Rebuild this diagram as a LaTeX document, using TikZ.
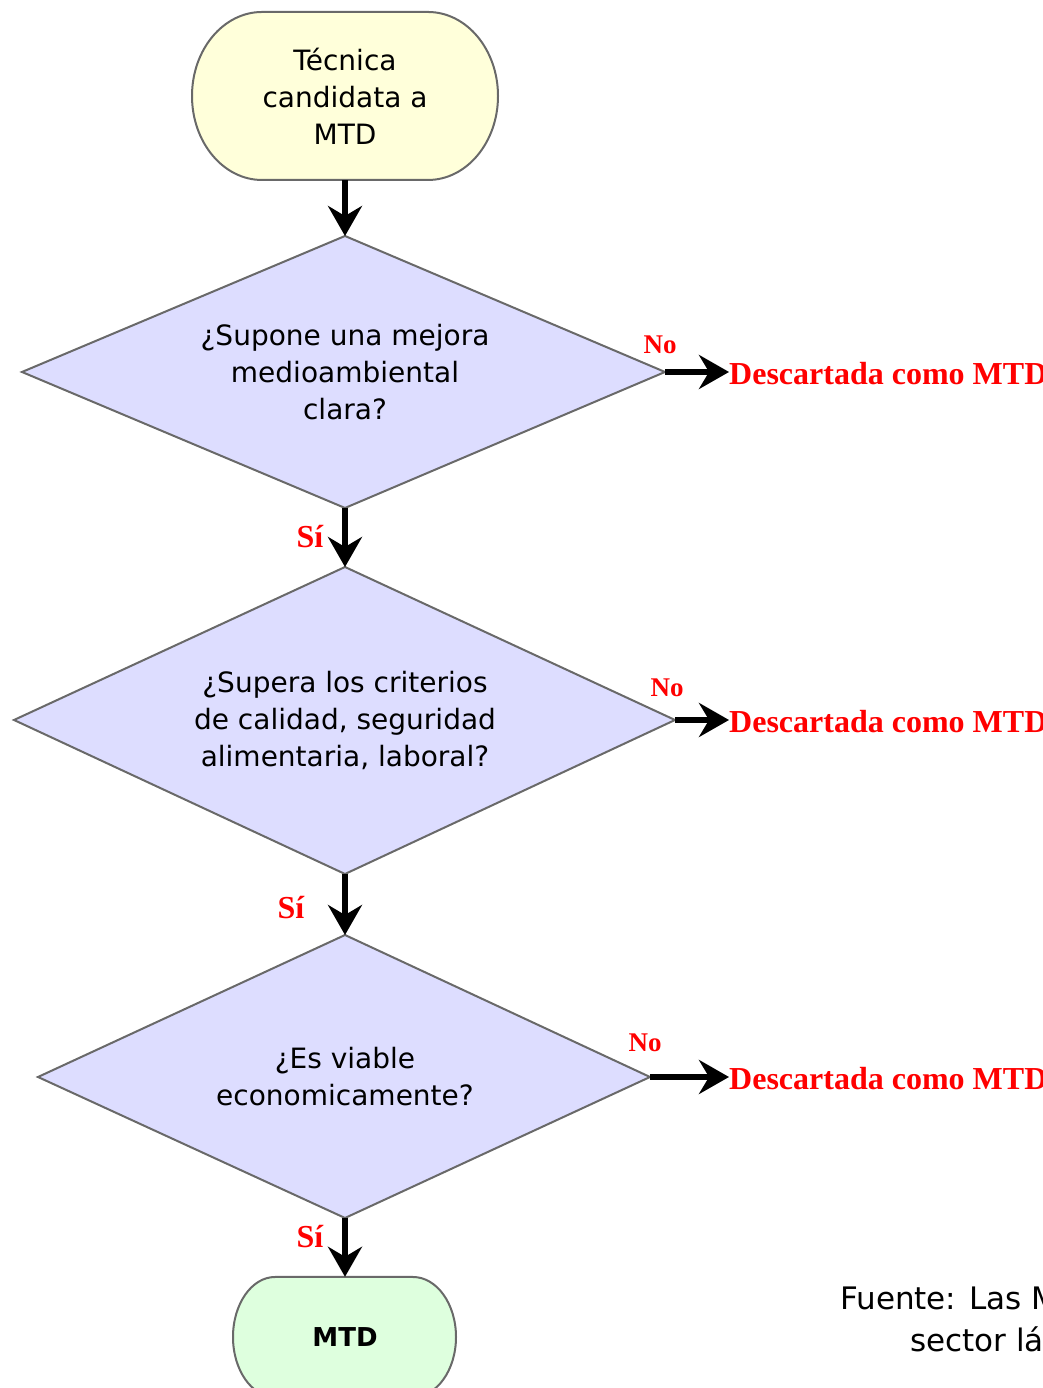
\documentclass[tikz,border=0pt]{standalone}
\usepackage{fontspec}
\setmainfont{DejaVu Sans}
\newfontfamily\serifbold{Liberation Serif}
\usetikzlibrary{arrows.meta}
\definecolor{termyellow}{RGB}{255,255,218}
\definecolor{decblue}{RGB}{221,221,255}
\definecolor{termgreen}{RGB}{222,255,222}
\definecolor{edgegray}{RGB}{105,105,105}
\definecolor{labred}{RGB}{255,0,0}
\tikzset{
  x=1pt,y=1pt,
  shapeline/.style={draw=edgegray,line width=2pt},
  dectext/.style={shape=rectangle,inner sep=0pt,align=center,font=\fontsize{28}{37}\selectfont},
  termtext/.style={shape=rectangle,inner sep=0pt,align=center,font=\fontsize{28}{37}\selectfont},
  flow/.style={line width=5.5pt,-{Stealth[length=30pt,width=34pt,inset=10pt]}},
  rejtext/.style={anchor=west,inner sep=0pt,text=labred,font=\serifbold\bfseries\fontsize{32}{36}\selectfont},
  nolab/.style={inner sep=0pt,text=labred,font=\serifbold\bfseries\fontsize{27}{30}\selectfont},
  silab/.style={inner sep=0pt,text=labred,font=\serifbold\bfseries\fontsize{32}{36}\selectfont},
  srctext/.style={anchor=base west,inner sep=0pt,font=\fontsize{31}{37}\selectfont}
}
\begin{document}
\begin{tikzpicture}
\useasboundingbox (0,0) rectangle (1043,1388);
\clip (0,0) rectangle (1043,1388);
% top terminal
\path[shapeline,fill=termyellow] (262,1376) -- (428,1376)
  arc[start angle=90,end angle=-90,x radius=70,y radius=84] -- (262,1208)
  arc[start angle=270,end angle=90,x radius=70,y radius=84] -- cycle;
\node[termtext,minimum width=306pt,minimum height=168pt] (t) at (345,1292) {Técnica\\candidata a\\MTD};
% decision 1
\coordinate (d1n) at (345,1152);
\coordinate (d1s) at (345,880);
\coordinate (d1w) at (22,1016);
\coordinate (d1e) at (665,1016);
\path[shapeline,fill=decblue] (d1n) -- (d1e) -- (d1s) -- (d1w) -- cycle;
\node[dectext] (d1) at (345,1016) {¿Supone una mejora\\medioambiental\\clara?};
% decision 2
\coordinate (d2n) at (345,821);
\coordinate (d2s) at (345,514);
\coordinate (d2w) at (14,668);
\coordinate (d2e) at (675,668);
\path[shapeline,fill=decblue] (d2n) -- (d2e) -- (d2s) -- (d2w) -- cycle;
\node[dectext] (d2) at (345,668) {¿Supera los criterios\\de calidad, seguridad\\alimentaria, laboral?};
% decision 3
\coordinate (d3n) at (345,453);
\coordinate (d3s) at (345,170);
\coordinate (d3w) at (38,311);
\coordinate (d3e) at (650,311);
\path[shapeline,fill=decblue] (d3n) -- (d3e) -- (d3s) -- (d3w) -- cycle;
\node[dectext] (d3) at (345,311) {¿Es viable\\economicamente?};
% bottom terminal
\path[shapeline,fill=termgreen] (275,111) -- (413,111)
  arc[start angle=90,end angle=-90,x radius=43,y radius=60] -- (275,-9)
  arc[start angle=270,end angle=90,x radius=42,y radius=60] -- cycle;
\node[termtext,minimum width=223pt,minimum height=120pt,font=\bfseries\fontsize{26}{30}\selectfont] (m) at (345,51) {MTD};
% vertical flow
\draw[flow] (t.south) -- (d1n);
\draw[flow] (d1s) -- (d2n);
\draw[flow] (d2s) -- (d3n);
\draw[flow] (d3s) -- (m.north);
% rejections
\node[rejtext] (r1) at (729,1014) {Descartada como MTD};
\node[rejtext] (r2) at (729,666) {Descartada como MTD};
\node[rejtext] (r3) at (729,309) {Descartada como MTD};
\draw[flow] (d1e) -- (r1.west |- d1e);
\draw[flow] (d2e) -- (r2.west |- d2e);
\draw[flow] (d3e) -- (r3.west |- d3e);
% labels
\node[nolab] (n1) at (660,1043) {No};
\node[nolab] (n2) at (667,700) {No};
\node[nolab] (n3) at (645,345) {No};
\node[silab] (s1) at (310,851) {Sí};
\node[silab] (s2) at (291,480) {Sí};
\node[silab] (s3) at (310,151) {Sí};
% source
\node[srctext] (f1) at (840,78) {Fuente: Las MTD en el};
\node[srctext] (f2) at (910,36) {sector lácteo};
\end{tikzpicture}
\end{document}
